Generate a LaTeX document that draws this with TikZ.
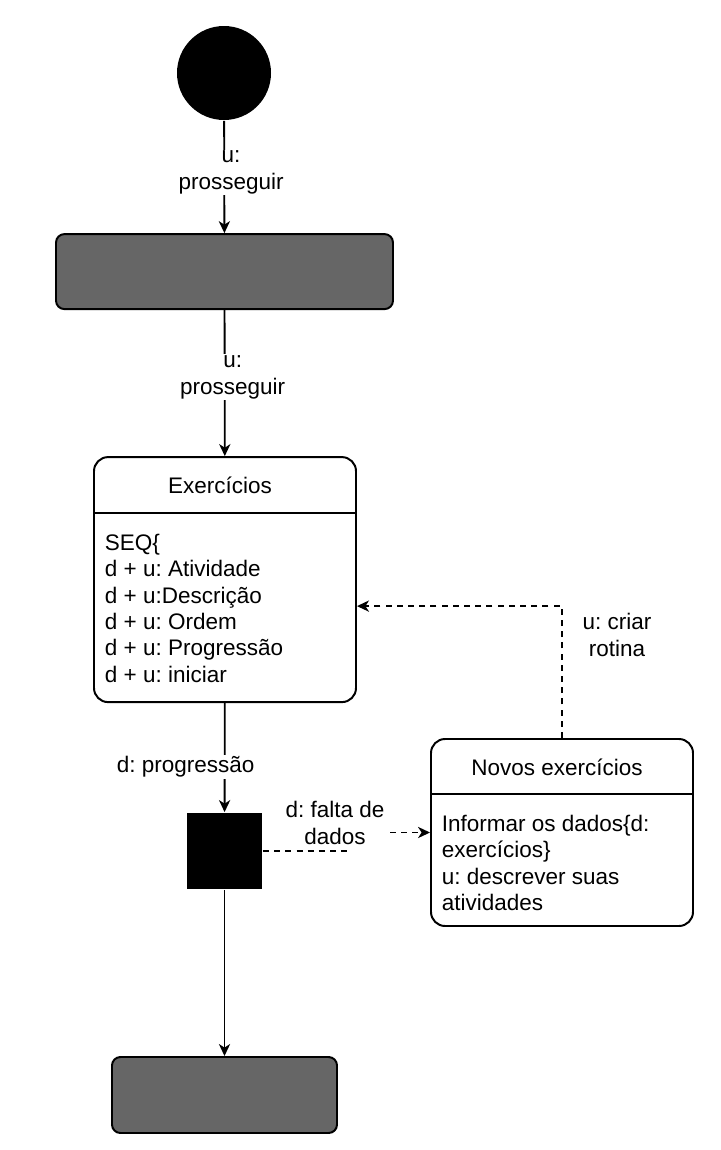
\documentclass[tikz,border=0pt]{standalone}
\usepackage{fontspec}
\setmainfont{Liberation Sans}
\usepackage{xcolor}
\usepackage{tikz}
\usetikzlibrary{calc}
\usetikzlibrary{arrows.meta}
\definecolor{stategray}{HTML}{666666}
\frenchspacing

\begin{document}
\begin{tikzpicture}[>={Stealth[length=3mm,width=2.8mm,inset=0.9mm]},
	font=\fontsize{16}{18.8}\selectfont, line width=1.3pt,
	lbl/.style={fill=white, inner sep=1pt, align=center},
	endbox/.style={rectangle, rounded corners=6pt, draw=black, line width=1.4pt, fill=stategray},
	statebox/.style={rectangle, rounded corners=10pt, draw=black, line width=1.4pt, minimum width=6.55cm},
	dsh/.style={dash pattern=on 1.5mm off 1.3mm}]
			\useasboundingbox (0,0) rectangle (18,-28.75);
			%start
			\node at (5.6,-1.825) (start) [circle, fill=black, minimum size=2.35cm, inner sep=0] {};
			%first state
			\node at (5.6125,-6.79) (top) [endbox, minimum width=8.425cm, minimum height=1.875cm] {};
			%exercicios
			\node at (5.625,-14.49) (ex) [statebox, minimum height=6.125cm] {};
			\draw [line width=1.4pt] ($(ex.north west) + (0,-1.425cm)$) -- ($(ex.north east) + (0,-1.425cm)$);
			\node at (5.5,-12.125) (exname) [] {Exercícios};
			\node [anchor=north west, inner sep=0, align=left] at (2.6,-13.325) (exbody) {SEQ\{\\d + u: Atividade\\d + u:Descrição\\d + u: Ordem\\d + u: Progressão\\d + u: iniciar};
			%fork square
			\node at (5.6125,-21.275) (sq) [rectangle, fill=black, minimum width=1.875cm, minimum height=1.9cm, inner sep=0] {};
			%final state
			\node at (5.6125,-27.375) (bottom) [endbox, minimum width=5.625cm, minimum height=1.9cm] {};
			%novos exercicios
			\node at (14.05,-20.8125) (nv) [statebox, minimum height=4.675cm] {};
			\draw [line width=1.4pt] ($(nv.north west) + (0,-1.4cm)$) -- ($(nv.north east) + (0,-1.4cm)$);
			\node at (13.925,-19.175) (nvname) [] {Novos exercícios};
			\node [anchor=north west, inner sep=0, align=left] at (11.025,-20.35) (nvbody) {Informar os dados\{d:\\exercícios\}\\u: descrever suas\\atividades};

			%transitions
			\draw [->] (start) -- (top) node [lbl, pos=0.46, xshift=0.17cm] {u:\\prosseguir};
			\draw [->] (top) -- (ex) node [lbl, pos=0.46, xshift=0.2cm] {u:\\prosseguir};
			\draw [->] (ex) -- (sq) node [lbl, pos=0.585, xshift=-0.975cm] {d: progressão};
			\draw [->] (sq) -- (bottom);

			\coordinate (bend) at (8.65,-21.275);
			\draw [->, dsh] (sq.east) -- (bend) |- (nv.west);
			\node at (8.375,-20.575) (falta) [lbl] {d: falta de\\dados};

			\coordinate (back) at ($(ex.east) + (0,-0.6625cm)$);
			\draw [->, dsh] (nv.north) |- (back);
			\node at (15.425,-15.875) (criar) [align=center] {u: criar\\rotina};
		\end{tikzpicture}
\end{document}
